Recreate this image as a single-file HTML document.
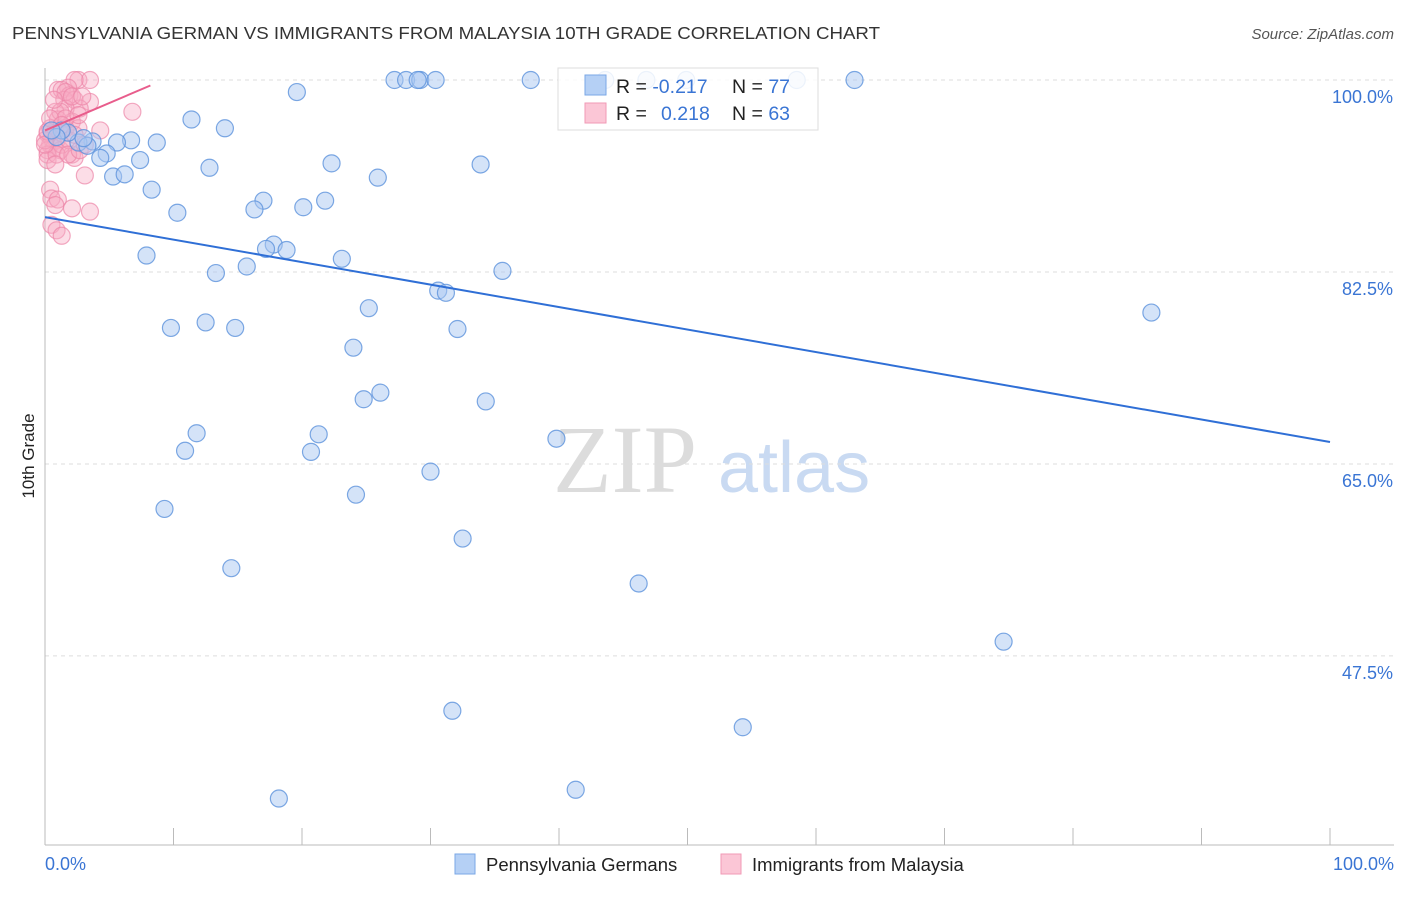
<!DOCTYPE html>
<html><head><meta charset="utf-8"><style>
body{margin:0;background:#fff;font-family:"Liberation Sans",sans-serif}
svg text{font-family:"Liberation Sans",sans-serif}
</style></head><body>
<svg id="chart" width="1406" height="892" viewBox="0 0 1406 892" xmlns="http://www.w3.org/2000/svg">
<text x="12" y="39" font-size="17.5" fill="#333" textLength="868" lengthAdjust="spacingAndGlyphs">PENNSYLVANIA GERMAN VS IMMIGRANTS FROM MALAYSIA 10TH GRADE CORRELATION CHART</text>
<text x="1394" y="39" font-size="15" fill="#555" font-style="italic" text-anchor="end">Source: ZipAtlas.com</text>
<g>
<text x="553" y="492" font-size="96" fill="#dcdcdc" font-family="Liberation Serif" style="font-family:'Liberation Serif',serif">ZIP</text>
<text x="718" y="492" font-size="72" fill="#c9daf2">atlas</text>
</g>
<g id="grid"></g>
<g id="axes"></g>
<text x="34" y="456" font-size="17" fill="#222" text-anchor="middle" transform="rotate(-90 34 456)">10th Grade</text>
<g id="pink"></g>
<g id="blue"></g>
<g id="trends"></g>
<g>
<rect x="558" y="68" width="260" height="62" fill="#fff" fill-opacity="0.85" stroke="#ddd"/>
<rect x="585" y="75" width="21" height="20" fill="#b5d0f5" stroke="#7aa7e6"/>
<rect x="585" y="103" width="21" height="20" fill="#fbc6d6" stroke="#f09ab6"/>
<text x="616" y="93" font-size="19.5" fill="#222">R = <tspan fill="#3a75d4">-0.217</tspan></text>
<text x="732" y="93" font-size="19.5" fill="#222">N = <tspan fill="#3a75d4">77</tspan></text>
<text x="616" y="120" font-size="19.5" fill="#222">R = <tspan fill="#3a75d4" x="661">0.218</tspan></text>
<text x="732" y="120" font-size="19.5" fill="#222">N = <tspan fill="#3a75d4">63</tspan></text>
</g>
<g>
<rect x="455" y="854" width="20" height="20" fill="#b5d0f5" stroke="#7aa7e6"/>
<text x="486" y="871" font-size="18.5" fill="#222">Pennsylvania Germans</text>
<rect x="721" y="854" width="20" height="20" fill="#fbc6d6" stroke="#f09ab6"/>
<text x="752" y="871" font-size="18.5" fill="#222">Immigrants from Malaysia</text>
</g>
</svg>
<script>
const blueX=[19.6,11.4,14.0,27.2,28.1,29.2,29.0,30.4,37.8,43.6,46.8,49.9,58.5,63.0,6.7,8.7,3.7,2.6,5.6,3.3,4.8,4.3,7.4,12.8,22.3,33.9,25.9,5.3,6.2,8.3,17.0,16.3,20.1,21.8,10.3,17.8,17.2,18.8,7.9,23.1,15.7,13.3,35.6,30.6,31.2,25.2,86.1,9.8,12.5,14.8,32.1,24.0,26.1,24.8,34.3,11.8,21.3,39.8,10.9,20.7,30.0,24.2,9.3,32.5,14.5,46.2,74.6,31.7,54.3,41.3,18.2,1.8,1.3,0.9,0.5,3.0];
const blueY=[98.9,96.4,95.6,100,100,100,100,100,100,100,100,100,100,100,94.5,94.3,94.4,94.3,94.3,94.0,93.3,92.9,92.7,92.0,92.4,92.3,91.1,91.2,91.4,90.0,89.0,88.2,88.4,89.0,87.9,85.0,84.6,84.5,84.0,83.7,83.0,82.4,82.6,80.8,80.6,79.2,78.8,77.4,77.9,77.4,77.3,75.6,71.5,70.9,70.7,67.8,67.7,67.3,66.2,66.1,64.3,62.2,60.9,58.2,55.5,54.1,48.8,42.5,41.0,35.3,34.5,95.2,95.4,94.8,95.4,94.7];
const pinkX=[2.6,3.5,2.3,1.8,1.0,1.3,1.9,1.5,2.3,3.5,2.7,1.6,6.8,0.8,1.0,2.1,0.4,0.8,1.2,1.6,2.6,0.2,0.5,0.9,0.4,0.7,0.2,1.2,0.2,2.1,2.3,3.1,0.4,0.5,1.0,0.8,2.1,3.5,0.5,0.9,1.3,0.2,1.3,1.9,0,0.2,0.9,1.8,2.7,4.3,1.6,2.1,2.9,1.2,1.6,0.4,2.6,0,0.8,1.3,2.3,3.1,0.7];
const pinkY=[100,100,100,99.3,99.1,99.1,98.6,98.2,98.2,98.0,97.4,97.4,97.1,97.1,96.4,96.2,95.6,95.4,95.4,95.6,95.6,95.1,94.7,94.5,94.1,93.8,93.6,93.6,93.2,93.2,92.9,91.3,90.0,89.2,89.1,88.6,88.3,88.0,86.8,86.3,85.8,92.7,94.1,94.5,94.5,95.3,93.2,93.2,93.6,95.4,98.9,98.5,98.5,97.1,96.5,96.5,96.8,94.1,92.3,95.9,95.0,94.1,98.2];
const yTicks=[100,82.5,65,47.5];
const yTickLabels=["100.0%","82.5%","65.0%","47.5%"];
const xTickLabels=["0.0%","100.0%"];
const blueTrend=[87.5,67.0];
const pinkTrend=[95.4,99.5,8.2];
const NS="http://www.w3.org/2000/svg";
const X0=45,X1=1330,YTOP=80,PXPER=10.97;
function sx(v){return X0+(X1-X0)*v/100;}
function sy(v){return YTOP+(100-v)*PXPER;}
function mk(tag,attrs,parent){const e=document.createElementNS(NS,tag);for(const k in attrs)e.setAttribute(k,attrs[k]);parent.appendChild(e);return e;}
const grid=document.getElementById('grid');
yTicks.forEach((t,i)=>{
 const l=mk('line',{x1:X0,x2:1394,y1:sy(t),y2:sy(t),stroke:'#ddd','stroke-dasharray':'4,4'},grid);
 
 
 const tx=mk('text',{x:1393,y:sy(t)+23,'font-size':18,fill:'#3a75d4','text-anchor':'end'},grid);
 tx.textContent=yTickLabels[i];
 
 
});
const axes=document.getElementById('axes');
mk('line',{x1:X0,x2:X0,y1:68,y2:845,stroke:'#bbb'},axes);
mk('line',{x1:X0,x2:1394,y1:845,y2:845,stroke:'#bbb'},axes);
for(let i=0;i<=10;i++){const x=sx(i*10);const t=mk('line',{x1:x,x2:x,y1:828,y2:845,stroke:'#bbb'},axes);
 
 }
const xl0=mk('text',{x:45,y:870,'font-size':18,fill:'#3a75d4'},axes);xl0.textContent=xTickLabels[0];


const xl1=mk('text',{x:1394,y:870,'font-size':18,fill:'#3a75d4','text-anchor':'end'},axes);xl1.textContent=xTickLabels[1];


const pink=document.getElementById('pink');
pinkX.forEach((v,i)=>{const c=mk('circle',{cx:sx(v),cy:sy(pinkY[i]),r:8.5,fill:'#f7a9c2','fill-opacity':0.4,stroke:'#ec86a8','stroke-opacity':0.7,'stroke-width':1.2},pink);
 
 });
const blue=document.getElementById('blue');
blueX.forEach((v,i)=>{const c=mk('circle',{cx:sx(v),cy:sy(blueY[i]),r:8.5,fill:'#a9c8f1','fill-opacity':0.5,stroke:'#5d92dc','stroke-opacity':0.8,'stroke-width':1.2},blue);
 
 });
const tr=document.getElementById('trends');
const bl=mk('line',{x1:sx(0),y1:sy(blueTrend[0]),x2:sx(100),y2:sy(blueTrend[1]),stroke:'#2f6fd6','stroke-width':2},tr);


const pl=mk('line',{x1:sx(0),y1:sy(pinkTrend[0]),x2:sx(pinkTrend[2]),y2:sy(pinkTrend[1]),stroke:'#e85d8c','stroke-width':2},tr);


</script>
</body></html>
